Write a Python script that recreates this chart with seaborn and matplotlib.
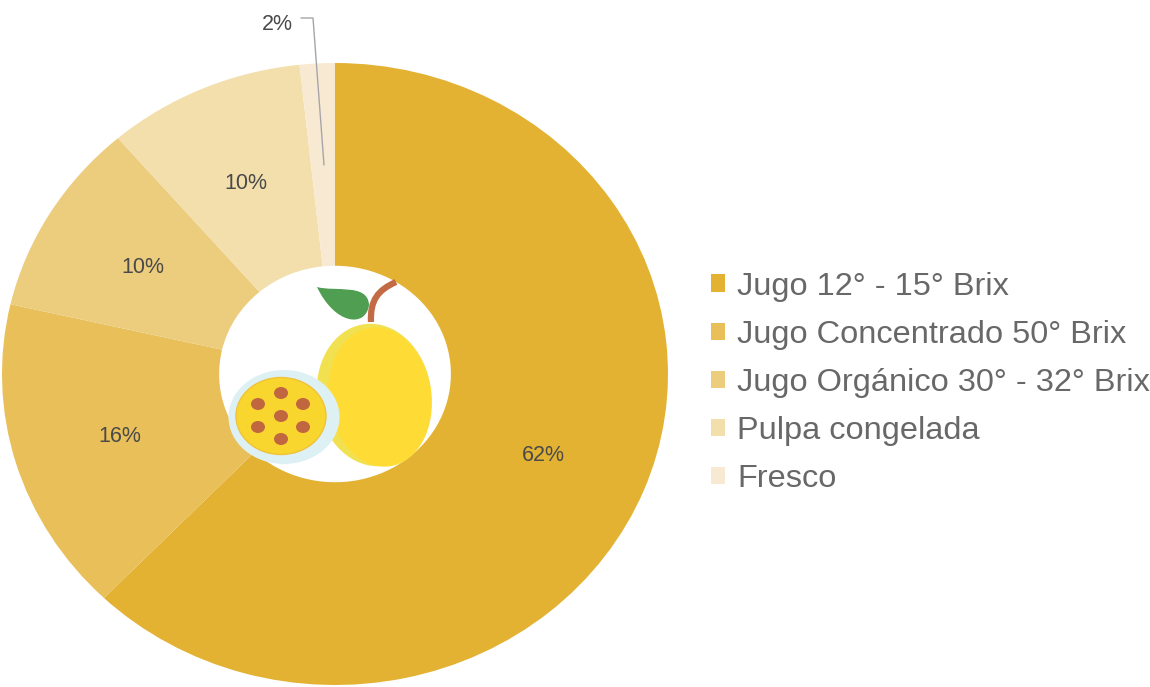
import matplotlib
matplotlib.use('Agg')
import matplotlib.pyplot as plt
import seaborn as sns
from matplotlib.patches import Ellipse, PathPatch
from matplotlib.path import Path

# Values, they round to the printed labels
categories = ['Jugo 12° - 15° Brix', 'Jugo Concentrado 50° Brix',
              'Jugo Orgánico 30° - 32° Brix', 'Pulpa congelada', 'Fresco']
shares = [62.2, 16.4, 10.1, 9.6, 1.7]
colors = ['#E3B233', '#E8BF58', '#ECCD7E', '#F3DFAC', '#F8EAD2']

seed_spots = [(281, 393), (258, 404), (303, 404), (281, 416),
              (258, 427), (303, 427), (281, 439)]

sns.set_theme(style='white')
plt.rcParams['font.family'] = ['Liberation Sans', 'DejaVu Sans']

W, H = 1150, 687
fig = plt.figure(figsize=(W / 100, H / 100), dpi=100)
fig.patch.set_facecolor('white')

# The pie in the source is slightly stretched, so the axes box sets its shape
left, right, top, bottom = 2, 668, 63, 685
ax = fig.add_axes([left / W, 1 - bottom / H, (right - left) / W, (bottom - top) / H])
wedges, _, pcts = ax.pie(shares, colors=colors, startangle=90, counterclock=False,
                         radius=1, autopct='%.0f%%', pctdistance=0.675,
                         wedgeprops={'width': 0.652, 'linewidth': 0},
                         textprops={'fontsize': 15.5, 'color': '#4a4a4a'})
ax.set_aspect('auto')
ax.set_xlim(-1, 1)
ax.set_ylim(-1, 1)
for t in pcts:
    t.set_va('center_baseline')

# overlay in pixel coordinates for the callout and the fruit icon
ov = fig.add_axes([0, 0, 1, 1], facecolor='none')
ov.set_xlim(0, W)
ov.set_ylim(H, 0)
ov.axis('off')

pcts[-1].set_visible(False)
ov.text(277, 22, '2%', fontsize=15.5, color='#4a4a4a', ha='center', va='center_baseline')
ov.plot([301, 313, 324], [18, 18, 165], color='#a5a5aa', lw=1)

# stem, leaf
stem = Path([(371, 322), (370, 300), (378, 290), (396, 282)],
            [Path.MOVETO, Path.CURVE4, Path.CURVE4, Path.CURVE4])
ov.add_patch(PathPatch(stem, facecolor='none', edgecolor='#C26B45', lw=4.5, capstyle='butt'))
leaf = Path([(317, 287), (335, 292), (368, 283), (369, 305),
             (366, 328), (335, 325), (317, 287)],
            [Path.MOVETO, Path.CURVE4, Path.CURVE4, Path.CURVE4,
             Path.CURVE4, Path.CURVE4, Path.CURVE4])
ov.add_patch(PathPatch(leaf, facecolor='#4F9E52', edgecolor='none'))

# whole fruit
ov.add_patch(Ellipse((374, 395), 114, 143, angle=-8, facecolor='#F1E150', edgecolor='none'))
ov.add_patch(Ellipse((380, 397), 103, 140, angle=-8, facecolor='#FFDC35', edgecolor='none'))

# cut fruit
ov.add_patch(Ellipse((284, 417), 111, 94, facecolor='#DDF1F5', edgecolor='none'))
ov.add_patch(Ellipse((281, 416), 90, 77, facecolor='#F9D62E', edgecolor='#EFC23A', lw=1))
for x, y in seed_spots:
    ov.add_patch(Ellipse((x, y), 14, 12, facecolor='#C0673F', edgecolor='none'))

leg = ov.legend(wedges, categories, loc='center left', bbox_to_anchor=(711 / W, 1 - 383 / H),
                bbox_transform=fig.transFigure, frameon=False, fontsize=23.4,
                labelcolor='#686868', handlelength=0.44, handleheight=0.44,
                handletextpad=0.37, labelspacing=0.56, borderpad=0, borderaxespad=0)

fig.savefig('out.png', dpi=100)
